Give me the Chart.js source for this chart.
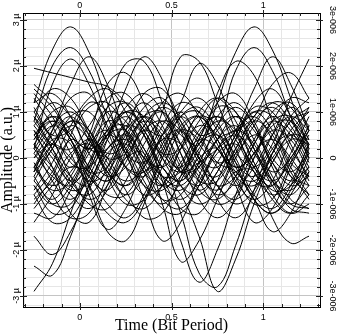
<!DOCTYPE html>
<html>
<head>
<meta charset="utf-8">
<script src="https://cdn.jsdelivr.net/npm/chart.js@4"></script>
<style>
  html, body { margin: 0; padding: 0; background: #fff; }
  #wrap { width: 348px; height: 335px; }
</style>
</head>
<body>
<div id="wrap"><canvas id="eye"></canvas></div>
<script>
// sample instants of every trace (bit periods)
const timePoints = [-0.25, -0.15, -0.05, 0.05, 0.15, 0.25, 0.35, 0.45, 0.55, 0.65, 0.75, 0.85, 0.95, 1.05, 1.15, 1.25];

// amplitude in micro units, one row per sweep
const upperTraces = [
  [1.2, 2.35, 2.85, 2.3, 1.2, 0.1, -0.6, -0.7, -0.2, 0.6, 0.9, 0.4, -0.3, -0.6, 0.1, 0.9],
  [0.3, -0.5, -0.9, -0.4, 0.5, 1.0, 0.6, -0.2, -0.5, 0.1, 1.2, 2.3, 2.85, 2.35, 1.3, 0.2],
  [0.8, 2.0, 2.4, 1.9, 0.9, 0.1, -0.1, 0.4, 0.6, 0.1, -0.6, -0.9, -0.4, 0.5, 1.1, 0.7],
  [-0.4, 0.3, 0.8, 0.5, -0.3, -0.8, -0.4, 0.5, 1.0, 0.5, 0.7, 1.9, 2.4, 1.9, 0.9, 0.0],
  [1.95, 1.85, 1.75, 1.65, 1.55, 1.2, 0.6, 0.1, 0.2, 0.8, 1.3, 1.0, 0.2, -0.3, 0.0, 0.7],
  [0.2, 1.6, 2.15, 1.6, 0.6, -0.2, -0.4, 0.2, 0.9, 1.0, 0.4, -0.2, 0.1, 0.8, 0.9, 0.3],
  [0.5, 0.9, 0.4, -0.4, -0.7, -0.1, 0.7, 1.0, 0.5, 0.3, 1.4, 2.1, 1.8, 0.8, -0.1, -0.4],
  [-0.3, 0.6, 1.6, 2.2, 1.6, 0.5, -0.3, -0.6, -0.1, 0.4, 0.2, -0.5, -0.9, -0.5, 0.4, 1.1],
  [0.9, 0.2, -0.6, -0.8, -0.2, 0.6, 0.9, 0.4, -0.3, -0.1, 0.2, 0.6, 1.5, 2.2, 1.6, 0.6],
  [-0.6, -1.0, -0.6, 0.2, 0.8, 0.6, -0.1, -0.6, -0.4, 0.3, 0.5, 0.1, -0.2, 0.3, 1.3, 2.15],
  [-0.8, -0.3, 0.4, 0.2, 1.1, 2.05, 2.1, 1.2, 0.1, -0.7, -0.9, -0.4, 0.4, 0.9, 0.6, -0.1],
  [0.3, -0.2, -0.7, -0.5, 0.4, 1.5, 2.2, 1.7, 0.6, -0.2, -0.4, 0.2, 0.8, 0.5, -0.3, -0.9],
  [-0.2, 0.5, 0.9, 0.4, -0.3, -0.6, 0.0, 1.0, 2.2, 2.1, 1.2, 0.2, -0.5, -0.6, 0.0, 0.6],
  [0.6, 0.1, -0.5, -0.9, -0.6, 0.2, 0.6, 0.5, 1.2, 2.05, 1.6, 0.6, -0.2, -0.5, -0.1, 0.5],
  [-0.2, -0.7, -0.5, 0.3, 1.0, 0.8, 0.1, -0.5, -0.7, -0.2, 0.4, 0.6, 0.9, 1.6, 1.85, 1.3],
  [1.1, 0.4, -0.2, 0.5, 1.6, 1.85, 1.2, 0.3, -0.3, -0.2, 0.4, 0.9, 0.6, -0.1, -0.5, -0.2]
];

const lowerTraces = [
  [-2.9, -2.3, -1.2, -0.1, 0.6, 0.7, 0.2, -0.4, -0.6, -0.1, 0.7, 1.1, 0.7, -0.1, -0.6, -0.4],
  [-2.35, -2.55, -1.7, -0.6, 0.2, 0.5, 0.0, -0.6, -0.9, -0.5, 0.2, 0.5, 0.1, -0.5, -0.7, -0.2],
  [-1.7, -2.1, -1.6, -0.7, 0.1, 0.3, -0.2, -0.9, -1.1, -0.6, 0.1, 0.3, -0.2, -0.9, -1.2, -0.8],
  [0.4, 0.9, 0.6, -0.2, -0.5, 0.0, 0.1, -1.0, -2.25, -1.8, -0.9, 0.0, 0.5, 0.2, -0.4, -0.6],
  [-0.5, 0.2, 0.7, 0.4, -0.3, -0.6, -0.3, -0.2, -1.2, -2.5, -2.8, -1.9, -0.7, 0.2, 0.5, 0.1],
  [0.1, -0.4, -0.6, -0.1, 0.5, 0.6, 0.0, -0.4, -0.8, -1.7, -2.9, -2.2, -1.0, -0.1, 0.4, 0.3],
  [0.7, 0.2, -0.4, -0.6, 0.0, 0.7, 0.5, -0.5, -1.8, -2.7, -2.0, -0.8, 0.1, 0.4, 0.0, -0.6],
  [0.6, -0.2, -1.2, -1.4, -0.6, 0.3, 0.8, 0.5, -0.3, -0.6, -0.1, 0.6, 0.9, 0.4, -0.4, -0.8],
  [-0.3, 0.4, 0.3, -0.8, -1.55, -1.1, -0.2, 0.4, 0.3, -0.3, -0.8, -0.5, 0.3, 0.8, 0.5, -0.2],
  [0.2, 0.7, 0.4, -0.6, -1.6, -1.8, -1.0, 0.0, 0.6, 0.4, -0.2, -0.6, -0.2, 0.5, 0.9, 0.6],
  [-0.5, -0.9, -0.4, 0.3, 0.6, 0.1, -0.9, -1.8, -1.4, -0.4, 0.4, 0.7, 0.2, -0.5, -0.8, -0.3],
  [0.3, 0.8, 0.5, -0.2, -0.5, 0.0, 0.6, 0.8, 0.3, -0.4, -0.7, -0.3, -0.3, -1.3, -1.85, -1.7],
  [-0.2, 0.3, 0.8, 0.6, -0.1, -0.5, -0.2, 0.5, 0.9, 0.5, -0.1, -0.3, -0.9, -1.6, -1.2, -0.3],
  [0.5, 0.0, -0.5, -0.2, 0.5, 0.9, 0.5, -0.2, -0.5, 0.0, 0.2, -0.6, -1.4, -1.1, -0.2, 0.6]
];

const bandTraces = [
  [1.4, 0.9, 0.1, -0.5, -0.3, 0.4, 1.1, 1.3, 0.7, -0.1, -0.6, -0.4, 0.3, 1.0, 1.2, 0.6],
  [-1.0, -0.4, 0.5, 1.2, 1.0, 0.2, -0.6, -1.0, -0.5, 0.4, 1.1, 1.0, 0.2, -0.6, -1.0, -0.6],
  [0.0, 0.6, 1.3, 1.4, 0.7, -0.2, -0.8, -0.6, 0.2, 1.0, 1.3, 0.8, -0.1, -0.7, -0.6, 0.1],
  [1.6, 1.2, 0.4, -0.3, -0.2, 0.6, 1.4, 1.5, 0.8, 0.0, -0.2, 0.4, 1.2, 1.5, 0.9, 0.1],
  [-1.2, -1.3, -0.7, 0.1, 0.5, 0.2, -0.5, -1.1, -1.2, -0.6, 0.2, 0.6, 0.3, -0.5, -1.1, -1.2],
  [0.4, 1.0, 1.1, 0.5, -0.4, -1.0, -0.9, -0.2, 0.6, 0.9, 0.4, -0.4, -1.0, -0.9, -0.1, 0.7],
  [-0.6, -1.2, -1.1, -0.3, 0.6, 1.0, 0.7, 0.0, -0.3, 0.2, 0.9, 1.2, 0.7, -0.2, -0.9, -1.1],
  [1.0, 1.5, 1.3, 0.6, 0.0, 0.1, 0.7, 1.1, 0.8, 0.0, -0.9, -1.3, -0.8, 0.1, 0.8, 1.0],
  [-1.4, -0.8, 0.0, 0.4, 0.0, -0.7, -1.3, -1.2, -0.4, 0.5, 0.9, 0.5, -0.3, -0.8, -0.5, 0.3],
  [0.2, -0.3, -0.8, -1.1, -0.7, 0.1, 0.9, 1.2, 0.9, 0.3, -0.1, 0.1, 0.7, 1.2, 1.1, 0.4],
  [0.8, 0.3, 0.2, 0.7, 1.3, 1.4, 0.8, 0.0, -0.6, -0.8, -0.3, 0.5, 1.1, 1.0, 0.3, -0.5],
  [-0.3, 0.2, 0.9, 1.0, 0.4, -0.2, -0.3, 0.3, 1.0, 1.3, 0.8, -0.1, -0.9, -1.2, -0.7, 0.2],
  [0.9, 0.4, -0.4, -1.0, -1.1, -0.5, 0.3, 0.8, 0.6, 0.0, -0.6, -1.0, -0.7, 0.1, 0.9, 1.3],
  [-0.9, -0.5, 0.1, 0.3, -0.2, -0.9, -1.1, -0.6, 0.2, 0.7, 0.5, -0.2, -0.9, -1.2, -0.8, 0.0],
  [1.2, 1.4, 0.9, 0.1, -0.4, -0.2, 0.5, 1.2, 1.4, 0.9, 0.2, -0.2, 0.1, 0.8, 1.3, 1.2],
  [-0.1, -0.8, -1.3, -1.2, -0.4, 0.5, 0.9, 0.6, -0.1, -0.9, -1.3, -0.9, 0.0, 0.7, 0.8, 0.3],
  [0.5, 0.8, 0.4, -0.3, -0.8, -0.8, -0.1, 0.7, 1.2, 1.0, 0.3, -0.4, -0.6, -0.1, 0.6, 1.0],
  [-0.7, -0.1, 0.7, 1.3, 1.5, 1.0, 0.2, -0.4, -0.3, 0.3, 0.8, 0.6, -0.1, -0.8, -1.2, -1.0],
  [1.3, 0.7, -0.1, -0.2, 0.4, 1.0, 0.9, 0.2, -0.6, -1.0, -0.7, 0.1, 0.8, 1.1, 0.7, 0.0],
  [-0.2, -0.6, -0.3, 0.4, 1.1, 1.2, 0.5, -0.4, -1.1, -1.2, -0.5, 0.4, 1.0, 0.9, 0.2, -0.4],
  [0.0, 0.3, 0.0, -0.6, -1.2, -1.4, -0.9, 0.0, 0.7, 0.9, 0.4, -0.3, -0.5, 0.0, 0.5, 0.4],
  [1.5, 1.1, 0.5, 0.2, 0.5, 1.1, 1.4, 1.0, 0.1, -0.5, -0.5, 0.2, 0.9, 1.2, 0.8, 0.2],
  [-1.1, -0.6, -0.2, -0.4, -1.0, -1.3, -0.8, 0.1, 0.9, 1.1, 0.6, -0.1, -0.4, 0.1, 0.8, 1.1],
  [0.7, 1.2, 0.9, 0.2, 0.2, 0.8, 1.2, 0.7, -0.2, -0.7, -0.3, 0.5, 1.0, 0.6, -0.2, -0.8],
  [-0.4, -1.0, -1.0, -0.2, 0.8, 1.2, 0.8, 0.1, -0.2, 0.4, 1.2, 1.4, 0.8, 0.0, -0.3, 0.1],
  [1.0, 0.5, 0.6, 1.1, 1.2, 0.6, -0.3, -0.9, -0.8, -0.1, 0.6, 0.9, 0.4, -0.4, -1.0, -1.1],
  [-0.8, -1.4, -1.3, -0.6, 0.2, 0.4, 0.0, -0.2, 0.3, 0.9, 0.7, 0.0, -0.8, -1.1, -0.6, 0.3],
  [0.1, 0.7, 1.0, 0.6, 0.1, 0.3, 0.9, 1.0, 0.3, -0.5, -1.0, -0.8, 0.0, 0.6, 0.4, -0.3]
];

// axis labels
const timeTicks = [0, 0.5, 1];
const timeTickLabels = ['0', '0.5', '1'];
const ampTicks = [3, 2, 1, 0, -1, -2, -3];
const ampLeftLabels = ['3 µ', '2 µ', '1 µ', '0', '-1 µ', '-2 µ', '-3 µ'];
const ampRightLabels = ['3e-006', '2e-006', '1e-006', '0', '-1e-006', '-2e-006', '-3e-006'];

const allTraces = [...upperTraces, ...lowerTraces, ...bandTraces];
const datasets = allTraces.map(tr => ({
  data: tr.map((v, i) => ({ x: timePoints[i], y: v })),
  borderColor: '#000',
  borderWidth: 1,
  pointRadius: 0,
  tension: 0.4,
  fill: false
}));

const isMajor = (v, step) => Math.abs(v / step - Math.round(v / step)) < 1e-6;
const gridColor = step => ctx => isMajor(ctx.tick.value, step) ? '#c4c4c4' : '#e6e6e6';
const timeLabel = v => {
  const i = timeTicks.findIndex(t => Math.abs(t - v) < 1e-6);
  return i < 0 ? '' : timeTickLabels[i];
};
const tickFont = { family: 'Liberation Sans', size: 9 };
const titleFont = { family: 'Liberation Serif', size: 16 };

// inward tick marks and the rotated amplitude labels
const axisDecor = {
  id: 'axisDecor',
  afterDraw(chart) {
    const { ctx, chartArea: a, scales } = chart;
    ctx.save();
    ctx.strokeStyle = '#222';
    ctx.lineWidth = 1;
    ctx.beginPath();
    scales.y.ticks.forEach(t => {
      const py = Math.round(scales.y.getPixelForValue(t.value)) + 0.5;
      const big = isMajor(t.value, 1);
      ctx.moveTo(a.left - (big ? 3 : 0), py); ctx.lineTo(a.left + (big ? 4 : 3), py);
      ctx.moveTo(a.right + (big ? 3 : 0), py); ctx.lineTo(a.right - (big ? 4 : 3), py);
    });
    scales.x.ticks.forEach(t => {
      const px = Math.round(scales.x.getPixelForValue(t.value)) + 0.5;
      const big = isMajor(t.value, 0.5);
      ctx.moveTo(px, a.bottom + (big ? 3 : 0)); ctx.lineTo(px, a.bottom - (big ? 4 : 3));
      ctx.moveTo(px, a.top - (big ? 3 : 0)); ctx.lineTo(px, a.top + (big ? 4 : 3));
    });
    ctx.stroke();

    ctx.fillStyle = '#000';
    ctx.font = '9px "Liberation Sans"';
    ctx.textAlign = 'center';
    ctx.textBaseline = 'middle';
    ampTicks.forEach((v, i) => {
      const py = scales.y.getPixelForValue(v);
      ctx.save();
      ctx.translate(a.left - 6, py);
      ctx.rotate(-Math.PI / 2);
      ctx.fillText(ampLeftLabels[i], 0, 0);
      ctx.restore();
      ctx.save();
      ctx.translate(a.right + 12, py);
      ctx.rotate(Math.PI / 2);
      ctx.fillText(ampRightLabels[i], 0, 0);
      ctx.restore();
    });
    ctx.restore();
  }
};

new Chart(document.getElementById('eye'), {
  type: 'line',
  data: { datasets },
  plugins: [axisDecor],
  options: {
    responsive: true,
    maintainAspectRatio: false,
    animation: false,
    events: [],
    layout: { padding: 0 },
    plugins: { legend: { display: false }, tooltip: { enabled: false } },
    scales: {
      x: {
        type: 'linear', position: 'bottom', min: -0.31, max: 1.31,
        ticks: { stepSize: 0.1, includeBounds: false, autoSkip: false, maxRotation: 0,
                 padding: 5, color: '#000', font: tickFont, callback: timeLabel },
        grid: { color: gridColor(0.5), drawTicks: false },
        border: { color: '#000', width: 1 },
        title: { display: true, text: 'Time (Bit Period)', color: '#000', font: titleFont,
                 padding: { top: 0, bottom: 0 } },
        afterFit: s => { s.height = 28; }
      },
      x2: {
        type: 'linear', axis: 'x', position: 'top', min: -0.31, max: 1.31,
        ticks: { stepSize: 0.1, includeBounds: false, autoSkip: false, maxRotation: 0,
                 padding: 2, color: '#000', font: tickFont, callback: timeLabel },
        grid: { display: false, drawTicks: false },
        border: { color: '#000', width: 1 },
        afterFit: s => { s.height = 13; }
      },
      y: {
        type: 'linear', position: 'left', min: -3.24, max: 3.152,
        ticks: { stepSize: 0.2, includeBounds: false, display: false },
        grid: { color: gridColor(1), drawTicks: false },
        border: { color: '#000', width: 1 },
        title: { display: true, text: 'Amplitude (a.u.)', color: '#000', font: titleFont,
                 padding: { top: -2, bottom: 0 } },
        afterFit: s => { s.width = 23; }
      },
      y2: {
        type: 'linear', axis: 'y', position: 'right', min: -3.24, max: 3.152,
        ticks: { stepSize: 0.2, includeBounds: false, display: false },
        grid: { display: false, drawTicks: false },
        border: { color: '#000', width: 1 },
        afterFit: s => { s.width = 28; }
      }
    }
  }
});
</script>
</body>
</html>
